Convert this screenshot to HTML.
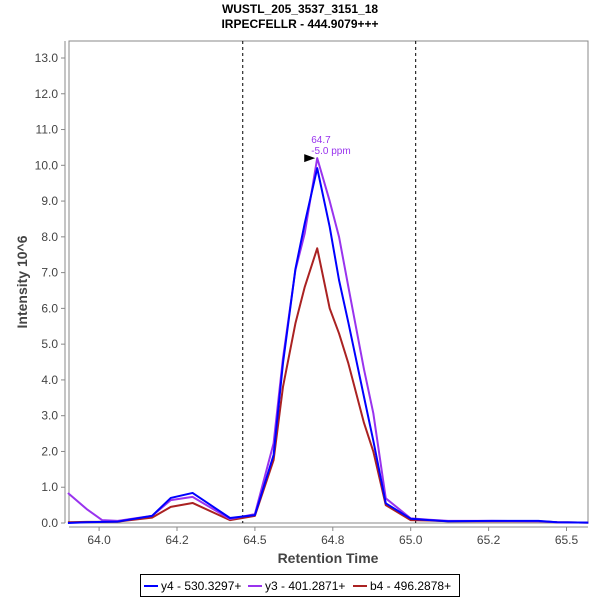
<!DOCTYPE html>
<html><head><meta charset="utf-8"><style>
body{margin:0;background:#fff;}
svg{display:block;font-family:"Liberation Sans",sans-serif;}
</style></head><body>
<svg id="chart" width="600" height="600">
<text x="300" y="13" text-anchor="middle" font-size="12" font-weight="bold">WUSTL_205_3537_3151_18</text>
<text x="300" y="28" text-anchor="middle" font-size="12" font-weight="bold">IRPECFELLR - 444.9079+++</text>
<rect x="69" y="41" width="519" height="482" fill="#fff" stroke="#888"/>
<line x1="65" y1="41" x2="65" y2="523" stroke="#888"/>
<line x1="69" y1="527" x2="588" y2="527" stroke="#888"/>
<g id="yticks"></g><g id="xticks"></g><g id="guides"></g><g id="series"></g>
<text transform="translate(27,282) rotate(-90)" text-anchor="middle" font-size="14" font-weight="bold" fill="#444">Intensity 10^6</text>
<text x="328" y="563" text-anchor="middle" font-size="14" font-weight="bold" fill="#444">Retention Time</text>
<g>
<rect x="140.5" y="574.5" width="319" height="22" fill="#fff" stroke="#000"/>
<g><line x1="144" y1="586" x2="158" y2="586" stroke="#0000ff" stroke-width="2"/><text x="161" y="590" font-size="12">y4 - 530.3297+</text></g>
<g><line x1="248" y1="586" x2="262" y2="586" stroke="#9933ee" stroke-width="2"/><text x="265" y="590" font-size="12">y3 - 401.2871+</text></g>
<g><line x1="353" y1="586" x2="367" y2="586" stroke="#aa2222" stroke-width="2"/><text x="370" y="590" font-size="12">b4 - 496.2878+</text></g>
</g>
</svg>
<script>
const times=[63.90,63.96,64.01,64.06,64.17,64.23,64.30,64.42,64.50,64.56,64.59,64.63,64.66,64.70,64.74,64.77,64.80,64.85,64.88,64.92,65.00,65.06,65.12,65.26,65.41,65.47,65.57];
const y4=[0.0,0.02,0.03,0.04,0.2,0.7,0.84,0.14,0.22,1.9,4.46,7.1,8.38,9.92,8.28,6.79,5.6,3.53,2.3,0.55,0.12,0.08,0.05,0.06,0.06,0.02,0.01];
const y3=[0.84,0.39,0.08,0.06,0.2,0.64,0.73,0.11,0.25,2.23,4.6,7.07,8.1,10.2,9.0,8.0,6.6,4.3,3.07,0.69,0.13,0.09,0.06,0.06,0.05,0.02,0.01];
const b4=[0.02,0.03,0.03,0.04,0.15,0.45,0.56,0.08,0.2,1.76,3.8,5.58,6.6,7.68,6.0,5.3,4.46,2.8,2.0,0.5,0.08,0.07,0.05,0.05,0.05,0.02,0.01];
const yTicks=[0,1,2,3,4,5,6,7,8,9,10,11,12,13];
const xTicks=[64.0,64.25,64.5,64.75,65.0,65.25,65.5];
const xTickLabels=["64.0","64.2","64.5","64.8","65.0","65.2","65.5"];
const guideTimes=[64.461,65.016];
const peakTime=64.70, peakValue=10.2;
const NS='http://www.w3.org/2000/svg';
const X=t=>99.1+(t-64)*311.6;
const Y=v=>523-v*35.77;
function mk(tag,attrs,parent){const e=document.createElementNS(NS,tag);for(const k in attrs)e.setAttribute(k,attrs[k]);parent.appendChild(e);return e;}
const yt=document.getElementById('yticks');
yTicks.forEach(v=>{
  const l=mk('line',{x1:61,x2:65,y1:Y(v),y2:Y(v),stroke:'#888'},yt);
  
  
  const t=mk('text',{x:58,y:Y(v)+4,'text-anchor':'end','font-size':12,fill:'#444'},yt);
  t.textContent=v.toFixed(1);
  
  
});
const xt=document.getElementById('xticks');
xTicks.forEach((v,i)=>{
  const l=mk('line',{x1:X(v),x2:X(v),y1:527,y2:531,stroke:'#888'},xt);
  
  
  const t=mk('text',{x:X(v),y:544,'text-anchor':'middle','font-size':12,fill:'#444'},xt);
  t.textContent=xTickLabels[i];
  
  
});
const g=document.getElementById('guides');
guideTimes.forEach(v=>{
  const l=mk('line',{x1:X(v),x2:X(v),y1:41,y2:523,stroke:'#000','stroke-dasharray':'3,3'},g);
  
  
});
const s=document.getElementById('series');
[[b4,'#aa2222','series-b4'],[y3,'#9933ee','series-y3'],[y4,'#0000ff','series-y4']].forEach(([d,c,n])=>{
  const p=mk('polyline',{points:times.map((t,i)=>X(t)+','+Y(d[i])).join(' '),fill:'none',stroke:c,'stroke-width':2,'stroke-linejoin':'round'},s);
  
  
});
const px=X(peakTime),py=Y(peakValue);
const a=mk('polygon',{points:`${px-2},${py} ${px-13},${py-4} ${px-13},${py+4}`,fill:'#000'},s);


const t1=mk('text',{x:px-6,y:py-15,'font-size':10,fill:'#9933ee'},s);
t1.textContent='64.7';


const t2=mk('text',{x:px-6,y:py-4,'font-size':10,fill:'#9933ee'},s);
t2.textContent='-5.0 ppm';


</script>
</body></html>
